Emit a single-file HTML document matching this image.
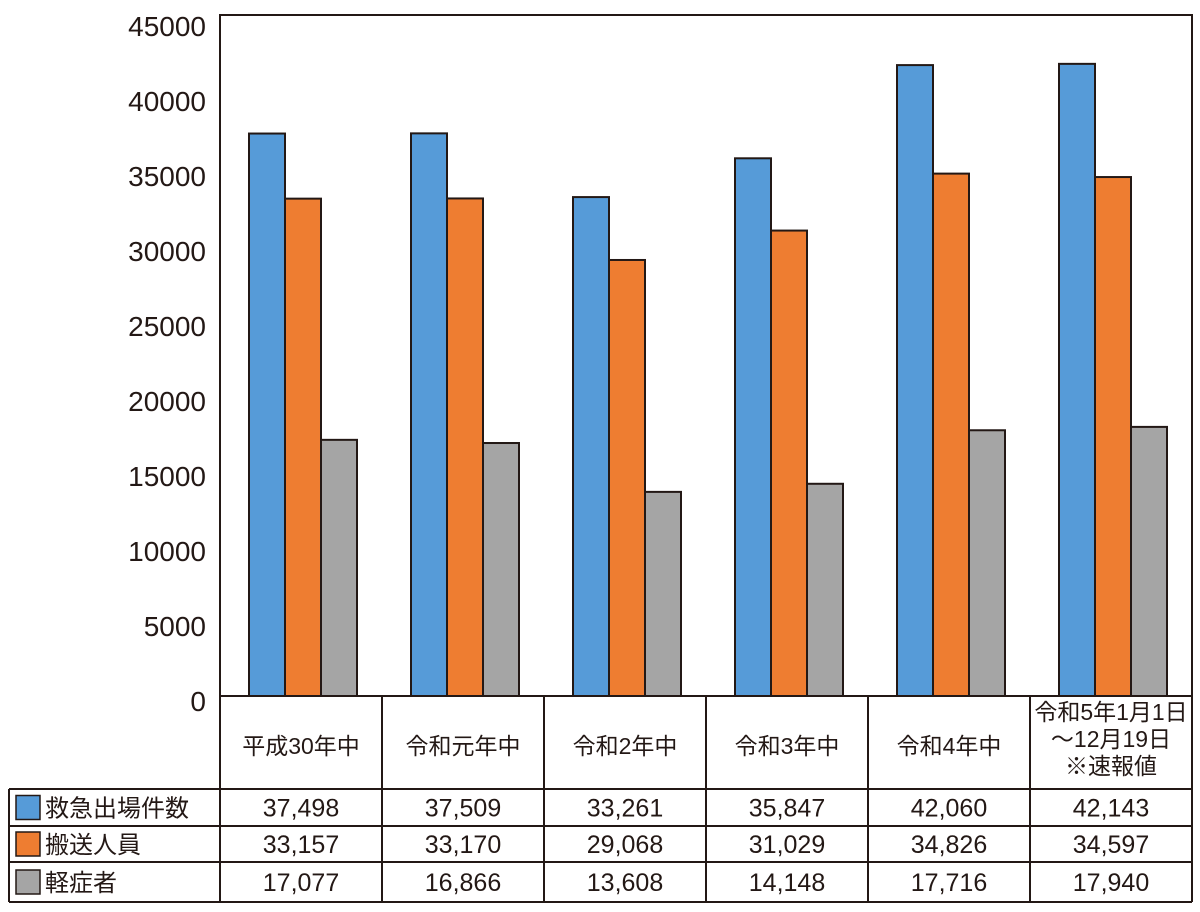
<!DOCTYPE html>
<html><head><meta charset="utf-8"><style>
body{margin:0;background:#fff;}
svg text{font-family:"Liberation Sans","Noto Sans CJK JP",sans-serif;fill:#231815;}
</style></head><body>
<svg id="c" width="1200" height="907" viewBox="0 0 1200 907" xmlns="http://www.w3.org/2000/svg"></svg>
<script>
const categories=[["平成30年中"],["令和元年中"],["令和2年中"],["令和3年中"],["令和4年中"],["令和5年1月1日","～12月19日","※速報値"]];
const seriesNames=["救急出場件数","搬送人員","軽症者"];
const dispatches=[37498,37509,33261,35847,42060,42143];
const transported=[33157,33170,29068,31029,34826,34597];
const mild=[17077,16866,13608,14148,17716,17940];
const yTicks=[0,5000,10000,15000,20000,25000,30000,35000,40000,45000];
const colors=["#569bd8","#ee7d31","#a5a5a5"];
const series=[dispatches,transported,mild];
const NS="http://www.w3.org/2000/svg",svg=document.getElementById('c');
const L=220,R=1192,T=15,B=696,ST=21,colW=(R-L)/6;
const y=v=>B-(v/45000)*(B-ST);
const x=i=>L+i*colW;
function mk(t,a,p){const e=document.createElementNS(NS,t);for(const k in a)e.setAttribute(k,a[k]);(p||svg).appendChild(e);return e;}
yTicks.forEach(v=>{const t=mk('text',{x:206,y:y(v)+15,'text-anchor':'end','font-size':28});t.textContent=v;

});
mk('rect',{x:L,y:T,width:R-L,height:B-T,fill:'none',stroke:'#231815','stroke-width':2});
series.forEach((s,si)=>s.forEach((v,i)=>{const r=mk('rect',{x:x(i)+29+si*36,y:y(v),width:36,height:B-y(v),fill:colors[si],stroke:'#231815','stroke-width':2});

}));
const rows=[696,789,826,862,902];
const g=mk('g',{stroke:'#231815','stroke-width':2,fill:'none'});


mk('line',{x1:L,y1:B,x2:L,y2:902},g);
for(let i=1;i<=6;i++)mk('line',{x1:x(i),y1:B,x2:x(i),y2:902},g);
mk('line',{x1:9,y1:789,x2:R,y2:789},g);mk('line',{x1:9,y1:826,x2:R,y2:826},g);mk('line',{x1:9,y1:862,x2:R,y2:862},g);mk('line',{x1:9,y1:902,x2:R,y2:902},g);
mk('line',{x1:9,y1:789,x2:9,y2:902},g);
categories.forEach((c,i)=>{const cx=x(i)+colW/2;const n=c.length;const lh=27;const sy=(n===1?754:720);
c.forEach((ln,j)=>{const t=mk('text',{x:cx,y:sy+j*lh,'text-anchor':'middle','font-size':23});t.textContent=ln;

});});
series.forEach((s,si)=>{const top=rows[si+1],bot=rows[si+2],my=(top+bot)/2;
const sw=mk('rect',{x:16,y:my-12,width:24,height:24,fill:colors[si],stroke:'#231815','stroke-width':1.5});


const lt=mk('text',{x:45,y:my+9,'font-size':24});lt.textContent=seriesNames[si];


s.forEach((v,i)=>{const t=mk('text',{x:x(i)+colW/2,y:my+9,'text-anchor':'middle','font-size':25});t.textContent=v.toLocaleString('en-US');

});});
</script>
</body></html>
